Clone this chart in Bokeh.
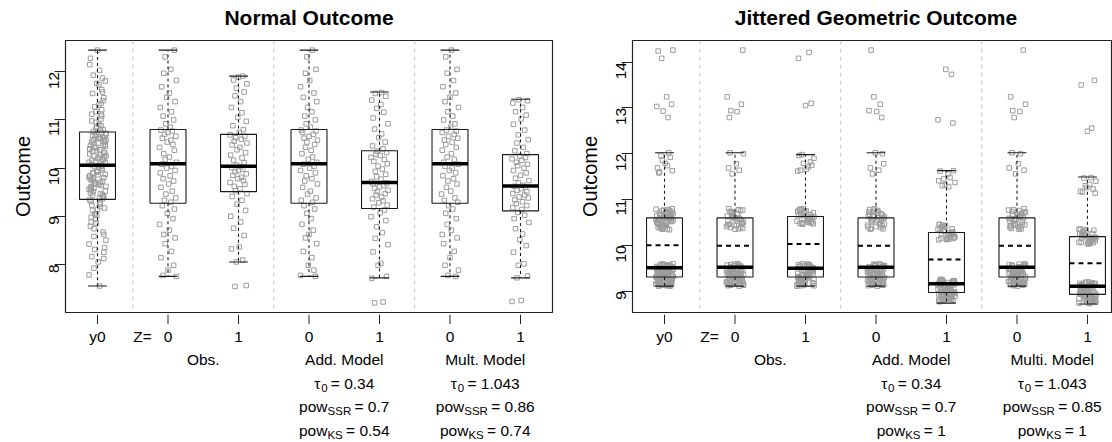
import math
from bokeh.plotting import figure
from bokeh.models import Range1d, FixedTicker, Span
from bokeh.layouts import row, column
from bokeh.core.properties import value
from bokeh.embed import file_html
from bokeh.resources import INLINE

FONT = "Liberation Sans"

# ---------------- data ----------------
positions = [1, 2, 3, 4, 5, 6, 7]
tick_labels = ["y0", "0", "1", "0", "1", "0", "1"]
z_label = "Z="
z_pos = 1.64
left_title = "Normal Outcome"
right_title = "Jittered Geometric Outcome"
title_center = 4.0
left_groups = ["Obs.", "Add. Model", "Mult. Model"]
right_groups = ["Obs.", "Add. Model", "Multi. Model"]
group_centers = [2.5, 4.5, 6.5]
tau_vals_left = ["0.34", "1.043"]
ssr_vals_left = ["0.7", "0.86"]
ks_vals_left = ["0.54", "0.74"]
tau_vals_right = ["0.34", "1.043"]
ssr_vals_right = ["0.7", "0.85"]
ks_vals_right = ["1", "1"]

# box statistics
left_q1 = [9.35, 9.27, 9.51, 9.27, 9.16, 9.27, 9.11]
left_med = [10.06, 10.09, 10.04, 10.09, 9.70, 10.09, 9.63]
left_q3 = [10.75, 10.80, 10.70, 10.80, 10.36, 10.80, 10.28]
left_lo = [7.55, 7.75, 8.05, 7.75, 7.72, 7.75, 7.72]
left_hi = [12.45, 12.45, 11.91, 12.45, 11.58, 12.45, 11.43]

right_q1 = [9.31, 9.31, 9.31, 9.31, 8.97, 9.31, 8.93]
right_med = [9.51, 9.52, 9.50, 9.52, 9.16, 9.52, 9.11]
right_mean = [10.00, 9.99, 10.03, 9.99, 9.69, 9.99, 9.61]
right_q3 = [10.60, 10.60, 10.63, 10.60, 10.28, 10.60, 10.19]
right_lo = [9.11, 9.11, 9.11, 9.11, 8.74, 9.11, 8.72]
right_hi = [12.02, 12.02, 11.98, 12.02, 11.63, 12.02, 11.49]

# jittered points (estimated)
left_y0 = [7.55, 8.16, 9.87, 10.42, 11.21, 9.34, 10.63, 8.74, 10.05, 11.87, 9.61, 10.28, 8.93, 10.71, 9.12,
           12.45, 10.17, 9.48, 11.02, 8.31, 10.55, 9.78, 10.91, 7.78, 9.96, 10.36, 11.46, 9.23, 10.79, 8.58,
           10.11, 9.69, 11.63, 10.47, 8.05, 9.41, 10.68, 12.03, 9.84, 10.22, 8.86, 11.34, 9.55, 10.59, 9.05,
           10.01, 11.93, 10.33, 8.42, 9.73, 10.86, 9.28, 11.12, 10.49, 7.92, 9.92, 10.74, 12.28, 9.38, 10.14,
           8.67, 11.55, 9.64, 10.40, 9.17, 10.82, 11.73, 8.98, 10.26, 9.51, 10.61, 11.27, 8.25, 9.81, 10.52,
           9.45, 10.98, 11.81, 9.02, 10.08, 8.79, 10.38, 9.58, 11.40, 10.69, 8.50, 9.90, 10.20, 11.08, 9.31,
           10.57, 12.15, 9.66, 10.03, 8.12, 10.76, 9.20, 11.17, 10.45, 9.75,
           9.36, 10.12, 10.65, 9.72, 10.31, 9.05, 10.88, 9.59, 10.47, 9.93, 10.23, 9.44, 10.72, 8.88, 10.04,
           9.67, 11.31, 10.39, 9.80, 10.58, 9.25, 10.16, 9.52, 10.95, 9.99, 10.29, 8.62, 10.51, 9.86, 11.58,
           10.07, 9.47, 10.67, 9.62, 10.35, 9.14, 10.80, 9.77, 11.12, 10.43, 8.35, 9.89, 10.62, 9.56, 10.19,
           11.76, 9.40, 10.54, 9.70, 10.25]
left_ctrl = [7.75, 7.77, 7.88, 7.98, 8.14, 8.27, 8.43, 8.55, 8.62, 8.71, 8.83, 8.95, 9.06, 9.15, 9.22,
             9.29, 9.33, 9.38, 9.46, 9.52, 9.60, 9.67, 9.73, 9.78, 9.84, 9.90, 9.95, 10.00, 10.04, 10.08,
             10.12, 10.18, 10.23, 10.30, 10.37, 10.43, 10.49, 10.54, 10.58, 10.62, 10.66, 10.70, 10.74, 10.77, 10.79,
             10.85, 10.92, 11.00, 11.08, 11.17, 11.26, 11.38, 11.47, 11.56, 11.69, 11.82, 11.97, 12.05, 12.31, 12.45]
left_obs1 = [7.54, 7.56, 8.05, 8.09, 8.32, 8.36, 8.60, 8.75, 8.88, 9.00, 9.12, 9.25, 9.33, 9.41, 9.47,
             9.53, 9.57, 9.62, 9.66, 9.70, 9.74, 9.78, 9.81, 9.85, 9.88, 9.92, 9.95, 9.98, 10.01, 10.03,
             10.06, 10.11, 10.16, 10.21, 10.27, 10.32, 10.38, 10.43, 10.48, 10.52, 10.56, 10.60, 10.63, 10.66, 10.69,
             10.74, 10.80, 10.88, 10.97, 11.05, 11.15, 11.26, 11.38, 11.50, 11.58, 11.66, 11.75, 11.83, 11.89, 11.91]
left_add1 = [7.20, 7.22, 7.71, 7.75, 7.98, 8.02, 8.26, 8.41, 8.54, 8.66, 8.78, 8.91, 8.99, 9.07, 9.13,
             9.19, 9.23, 9.28, 9.32, 9.36, 9.40, 9.44, 9.47, 9.51, 9.54, 9.58, 9.61, 9.64, 9.67, 9.69,
             9.72, 9.77, 9.82, 9.87, 9.93, 9.98, 10.04, 10.09, 10.14, 10.18, 10.22, 10.26, 10.29, 10.32, 10.35,
             10.40, 10.46, 10.54, 10.63, 10.71, 10.81, 10.92, 11.04, 11.16, 11.24, 11.32, 11.41, 11.49, 11.55, 11.57]
left_mult1 = [7.23, 7.25, 7.72, 7.76, 7.98, 8.01, 8.25, 8.39, 8.51, 8.63, 8.74, 8.87, 8.95, 9.02, 9.08,
              9.14, 9.18, 9.22, 9.26, 9.30, 9.34, 9.38, 9.40, 9.44, 9.47, 9.51, 9.54, 9.57, 9.60, 9.62,
              9.64, 9.69, 9.74, 9.79, 9.85, 9.90, 9.95, 10.00, 10.05, 10.08, 10.12, 10.16, 10.19, 10.22, 10.25,
              10.30, 10.36, 10.43, 10.52, 10.59, 10.69, 10.79, 10.91, 11.02, 11.10, 11.17, 11.26, 11.35, 11.40, 11.42]

right_y0 = [9.12, 9.35, 9.48, 9.21, 9.57, 9.30, 9.14, 9.44, 9.52, 9.26, 9.39, 9.17, 9.59, 9.33, 9.46,
            9.23, 9.11, 9.41, 9.55, 9.28, 9.19, 9.50, 9.37, 9.15, 9.43, 9.58, 9.24, 9.32, 9.47, 9.13,
            9.53, 9.36, 9.20, 9.45, 9.29, 9.56, 9.16, 9.40, 9.51, 9.25, 9.34, 9.18, 9.49, 9.60, 9.27,
            9.42, 9.22, 9.54, 9.31, 9.12, 9.38, 9.57, 9.19, 9.46, 9.30, 9.52, 9.14, 9.44, 9.26, 9.36,
            9.50, 9.21, 9.55, 9.33, 9.17, 9.48,
            9.13, 9.29, 9.47, 9.58, 9.20, 9.38, 9.53, 9.16, 9.34, 9.45, 9.11, 9.27, 9.56, 9.41, 9.22,
            9.49, 9.35, 9.18, 9.59, 9.31, 9.43, 9.24, 9.51, 9.15, 9.37, 9.54, 9.28, 9.46, 9.19, 9.40,
            10.36, 10.61, 10.74, 10.45, 10.58, 10.79, 10.41, 10.67, 10.52, 10.35, 10.71, 10.49, 10.63, 10.77,
            10.44, 10.56, 10.69, 10.39, 10.60, 10.75, 10.48, 10.65, 10.53, 10.38, 10.72, 10.57, 10.80, 10.46,
            10.64, 10.51, 10.68, 10.42, 10.59, 10.76, 10.55, 10.62,
            10.37, 10.54, 10.70, 10.43, 10.66, 10.50, 10.78, 10.40, 10.61, 10.47, 10.73, 10.56, 10.34, 10.64, 10.58,
            11.58, 11.74, 11.96, 11.63, 11.85, 12.02, 11.69, 11.79, 11.92, 11.60,
            13.24, 13.03, 13.08, 12.93, 12.79, 14.24, 14.26, 14.08]
right_ctrl = [9.13, 9.42, 9.27, 9.55, 9.18, 9.36, 9.49, 9.22, 9.58, 9.31, 9.45, 9.15, 9.39, 9.52, 9.25,
              9.60, 9.34, 9.20, 9.47, 9.11, 9.41, 9.56, 9.29, 9.17, 9.50, 9.37, 9.23, 9.44, 9.57, 9.32,
              9.14, 9.48, 9.26, 9.53, 9.38, 9.19, 9.43, 9.59, 9.30, 9.16, 9.46, 9.35, 9.21, 9.54,
              9.12, 9.33, 9.51, 9.24, 9.45, 9.16, 9.57, 9.28, 9.40, 9.19, 9.49, 9.36, 9.13, 9.55, 9.30,
              9.42, 9.21, 9.47, 9.26, 9.38,
              10.37, 10.62, 10.78, 10.45, 10.56, 10.70, 10.40, 10.66, 10.51, 10.74, 10.35, 10.59, 10.80, 10.48,
              10.64, 10.43, 10.72, 10.54, 10.39, 10.68, 10.60, 10.77, 10.46, 10.57,
              10.41, 10.58, 10.73, 10.47, 10.65, 10.36, 10.53, 10.76, 10.44, 10.69,
              12.02, 12.00, 11.69, 11.64, 11.56, 11.78,
              13.24, 13.08, 12.94, 12.92, 12.79, 14.26]
right_obs1 = [9.12, 9.40, 9.28, 9.56, 9.19, 9.35, 9.50, 9.23, 9.59, 9.30, 9.46, 9.14, 9.38, 9.53, 9.26,
              9.60, 9.33, 9.21, 9.48, 9.11, 9.42, 9.55, 9.29, 9.16, 9.51, 9.36, 9.24, 9.45, 9.58, 9.31,
              9.15, 9.47, 9.27, 9.54, 9.39, 9.18, 9.44, 9.57, 9.32, 9.17, 9.49, 9.34, 9.22, 9.52,
              9.14, 9.37, 9.53, 9.22, 9.44, 9.17, 9.58, 9.29, 9.41, 9.20, 9.50, 9.33, 9.12, 9.56, 9.27,
              9.43, 9.25, 9.48, 9.31, 9.39,
              10.46, 10.63, 10.78, 10.50, 10.57, 10.71, 10.48, 10.67, 10.53, 10.75, 10.47, 10.60, 10.80, 10.52,
              10.65, 10.49, 10.73, 10.55, 10.69, 10.62, 10.77, 10.58,
              10.49, 10.61, 10.74, 10.51, 10.66, 10.56, 10.79, 10.47, 10.70, 10.59,
              11.62, 11.75, 11.98, 11.66, 11.82, 11.96, 11.71, 11.79, 11.90, 11.64,
              13.05, 13.10, 14.08, 14.21]
right_add1 = [8.78, 9.06, 8.94, 9.22, 8.85, 9.01, 9.16, 8.89, 9.25, 8.96, 9.12, 8.80, 9.04, 9.19, 8.92,
              9.26, 8.99, 8.87, 9.14, 8.77, 9.08, 9.21, 8.95, 8.82, 9.17, 9.02, 8.90, 9.11, 9.24, 8.97,
              8.81, 9.13, 8.93, 9.20, 9.05, 8.84, 9.10, 9.23, 8.98, 8.83, 9.15, 9.00, 8.88, 9.18,
              8.80, 9.03, 9.19, 8.88, 9.10, 8.83, 9.24, 8.95, 9.07, 8.86, 9.16, 8.99, 8.78, 9.22, 8.93,
              9.09, 8.91, 9.14, 8.97, 9.05,
              10.12, 10.29, 10.44, 10.16, 10.23, 10.37, 10.14, 10.33, 10.19, 10.41, 10.13, 10.26, 10.46, 10.18,
              10.31, 10.15, 10.39, 10.21, 10.35, 10.28, 10.43, 10.24,
              10.15, 10.27, 10.40, 10.17, 10.32, 10.22, 10.45, 10.13, 10.36, 10.25,
              11.28, 11.41, 11.63, 11.32, 11.48, 11.62, 11.37, 11.45, 11.56, 11.30,
              12.67, 12.74, 13.73, 13.84]
right_mult1 = [8.74, 9.01, 8.90, 9.17, 8.81, 8.96, 9.11, 8.85, 9.20, 8.92, 9.07, 8.76, 8.99, 9.14, 8.88,
               9.20, 8.95, 8.83, 9.09, 8.73, 9.03, 9.16, 8.91, 8.78, 9.12, 8.97, 8.86, 9.06, 9.18, 8.93,
               8.77, 9.08, 8.89, 9.15, 9.00, 8.80, 9.05, 9.17, 8.94, 8.79, 9.10, 8.98, 8.84, 9.13,
               8.76, 8.98, 9.14, 8.84, 9.05, 8.79, 9.19, 8.91, 9.02, 8.82, 9.11, 8.95, 8.74, 9.17, 8.89,
               9.04, 8.87, 9.09, 8.93, 9.00,
               10.03, 10.19, 10.33, 10.07, 10.14, 10.27, 10.05, 10.23, 10.10, 10.31, 10.04, 10.17, 10.36, 10.09,
               10.21, 10.06, 10.29, 10.12, 10.25, 10.18, 10.34, 10.15,
               10.06, 10.17, 10.30, 10.08, 10.22, 10.13, 10.35, 10.05, 10.26, 10.16,
               11.14, 11.26, 11.48, 11.18, 11.33, 11.47, 11.23, 11.30, 11.40, 11.16,
               12.49, 12.56, 13.50, 13.60]

# horizontal jitter of the points (data units, estimated)
jitter = [0.03, -0.08, 0.11, -0.02, 0.06, -0.11, 0.09, -0.05, 0.01, 0.07,
          -0.09, 0.04, -0.03, 0.12, -0.07, 0.00, 0.08, -0.10, 0.05, -0.04,
          0.10, -0.06, 0.02, -0.12, 0.07, -0.01, 0.09, -0.08, 0.04, -0.05,
          0.11, -0.03, 0.06, -0.10, 0.01, 0.08, -0.07, 0.03, -0.11, 0.10,
          -0.02, 0.05, -0.09, 0.12, -0.04, 0.02, -0.06, 0.09, -0.12, 0.07,
          -0.01, 0.04, -0.08, 0.11, -0.05, 0.00, 0.06, -0.10, 0.03, -0.03,
          0.08, -0.07, 0.05, -0.11, 0.10, -0.02, 0.02, -0.09, 0.12, -0.06,
          0.04, -0.04, 0.09, -0.12, 0.01, 0.07, -0.08, 0.11, -0.01, 0.05,
          -0.10, 0.03, -0.05, 0.08, -0.03, 0.12, -0.07, 0.00, 0.06, -0.09,
          0.10, -0.11, 0.02, -0.04, 0.09, -0.06, 0.04, -0.02, 0.11, -0.08,
          0.07, -0.12, 0.01, -0.05, 0.10, -0.03, 0.05, -0.10, 0.08, -0.01,
          0.03, -0.07, 0.12, -0.09, 0.06, -0.04, 0.02, -0.11, 0.09, -0.06]
jitter_start = [0, 13, 29, 47, 61, 83, 101]

# ---------------- helpers ----------------
CW = {'p': .556, 'o': .556, 'w': .722, 'S': .667, 'R': .722, 'K': .667, '=': .584,
      '.': .278, ' ': .278, 'τ': .45}


def tw(s, size):
    return sum(CW.get(c, .556) for c in s) * size


MAIN = 15.5
SUB = 11.5
TITLE_H = 39    # strip holding the panel title
MAIN_H = 274    # frame 40..312
TICK_H = 11     # strip with the x tick marks
BOT_H = 442 - TITLE_H - MAIN_H - TICK_H
BOT_AX = 26


def blank(width, height, x_range, mb_left, mb_right, y_top, y_bottom, mb_top=0, x_loc=None):
    f = figure(width=width, height=height, x_range=x_range, y_range=Range1d(y_bottom, y_top),
               output_backend="svg", toolbar_location=None, min_border_left=mb_left,
               min_border_right=mb_right, min_border_top=mb_top, min_border_bottom=0,
               x_axis_location=x_loc, y_axis_location=None, title=None)
    f.outline_line_color = None
    f.grid.grid_line_color = None
    f.background_fill_color = "white"
    f.border_fill_color = "white"
    return f


def make_title(x_range, width, mb_left, mb_right, text):
    t = blank(width, TITLE_H, x_range, mb_left, mb_right, 0, TITLE_H)
    t.text(x=[title_center], y=[17], text=[text], text_font=value(FONT), text_font_size="21px",
           text_font_style="bold", text_align="center", text_baseline="middle",
           text_color="black")
    return t


def make_panel(x_range, ystart, yend, yticks, width, mb_left, mb_right):
    p = figure(width=width, height=MAIN_H, x_range=x_range,
               y_range=Range1d(ystart, yend), output_backend="svg", toolbar_location=None,
               min_border_left=mb_left, min_border_right=mb_right, min_border_top=1,
               min_border_bottom=1, x_axis_location=None, title=None)
    p.grid.grid_line_color = None
    p.outline_line_color = "#222222"
    p.outline_line_width = 1.2
    p.background_fill_color = "white"
    p.border_fill_color = "white"
    ya = p.yaxis[0]
    ya.ticker = FixedTicker(ticks=yticks)
    ya.axis_line_color = None
    ya.major_tick_out = 11
    ya.major_tick_in = 0
    ya.major_tick_line_color = "#222222"
    ya.minor_tick_line_color = None
    ya.major_label_text_font = FONT
    ya.major_label_text_font_size = "15.5px"
    ya.major_label_text_color = "black"
    ya.major_label_orientation = math.pi / 2
    ya.major_label_standoff = 0
    ya.axis_label = "Outcome"
    ya.axis_label_text_font = FONT
    ya.axis_label_text_font_size = "20px"
    ya.axis_label_text_font_style = "normal"
    ya.axis_label_text_color = "black"
    ya.axis_label_standoff = 8
    for loc in (1.5, 3.5, 5.5):
        p.add_layout(Span(location=loc, dimension="height", line_color="#c4c4c4",
                          line_dash="4 4", line_width=1))
    return p


def make_strip(x_range, width, mb_left, mb_right):
    s = blank(width, TICK_H, x_range, mb_left, mb_right, 0, TICK_H)
    # x tick marks below the frame
    s.segment(x0=positions, x1=positions, y0=[0] * len(positions), y1=[TICK_H] * len(positions),
              line_color="#222222", line_width=1)
    return s


def make_bottom(x_range, width, mb_left, mb_right):
    b = blank(width, BOT_H, x_range, mb_left, mb_right, 0, BOT_H - BOT_AX, mb_top=BOT_AX,
              x_loc="above")
    xa = b.xaxis[0]
    xa.ticker = FixedTicker(ticks=[positions[0], z_pos] + positions[1:])
    ov = {k: v for k, v in zip(positions, tick_labels)}
    ov[z_pos] = z_label
    xa.major_label_overrides = ov
    xa.axis_line_color = None
    xa.major_tick_out = 0
    xa.major_tick_in = 0
    xa.minor_tick_line_color = None
    xa.major_label_standoff = 8
    xa.major_label_text_font = FONT
    xa.major_label_text_font_size = "15.5px"
    xa.major_label_text_color = "black"
    return b


def txt(b, x, y, s, size, align="center", x_off=0):
    b.text(x=[x], y=[y], text=[s], x_offset=x_off, text_font=value(FONT),
           text_font_size=f"{size}px", text_align=align, text_baseline="middle",
           text_color="black")


def composite(b, xc, y, base, sub, rest):
    gap = 3.3
    wb, ws, wr = tw(base, MAIN), tw(sub, SUB), tw(rest, MAIN)
    total = wb + ws + gap + wr
    x0 = -total / 2
    txt(b, xc, y, base, MAIN, align="left", x_off=x0)
    txt(b, xc, y + 4.5, sub, SUB, align="left", x_off=x0 + wb)
    txt(b, xc, y, rest, MAIN, align="left", x_off=x0 + wb + ws + gap)


def annotate(b, groups, taus, ssrs, kss):
    for xc, name in zip(group_centers, groups):
        txt(b, xc, 7.5, name, MAIN)
    for k, xc in enumerate(group_centers[1:]):
        composite(b, xc, 32, "τ", "0", "= " + taus[k])
        composite(b, xc, 55.5, "pow", "SSR", "= " + ssrs[k])
        composite(b, xc, 79.5, "pow", "KS", "= " + kss[k])


def points(p, groups):
    xs, ys = [], []
    for g, vals in enumerate(groups):
        for i, v in enumerate(vals):
            xs.append(positions[g] + jitter[(i + jitter_start[g]) % len(jitter)])
            ys.append(v)
    p.scatter(xs, ys, marker="square", size=4.5, fill_color=None, line_color="#9c9c9c",
              line_width=1)


def boxes(p, q1, med, q3, lo, hi, mean=None):
    hw = 0.255
    cw = 0.133
    p.vbar(x=positions, width=2 * hw, bottom=q1, top=q3, fill_color=None,
           line_color="#1a1a1a", line_width=1.1)
    p.segment(x0=positions, y0=q3, x1=positions, y1=hi, line_color="#1a1a1a",
              line_dash="3 3", line_width=1.1)
    p.segment(x0=positions, y0=q1, x1=positions, y1=lo, line_color="#1a1a1a",
              line_dash="3 3", line_width=1.1)
    p.segment(x0=[x - cw for x in positions], x1=[x + cw for x in positions], y0=hi, y1=hi,
              line_color="#1a1a1a", line_width=1.1)
    p.segment(x0=[x - cw for x in positions], x1=[x + cw for x in positions], y0=lo, y1=lo,
              line_color="#1a1a1a", line_width=1.1)
    p.segment(x0=[x - hw for x in positions], x1=[x + hw for x in positions], y0=med, y1=med,
              line_color="black", line_width=3.5, line_cap="butt")
    if mean is not None:
        p.segment(x0=[x - hw for x in positions], x1=[x + hw for x in positions], y0=mean,
                  y1=mean, line_color="black", line_width=2, line_dash="5 4")


# layout widths: left frame 65..552, right frame 632..1112
LW = 566
RW = 1112 - LW
L_MB = (65, LW - 552)
R_MB = (632 - LW, 0)

# ---------------- left panel ----------------
xl = Range1d(0.546, 7.454)
tl = make_title(xl, LW, *L_MB, left_title)
pl = make_panel(xl, 7.0, 12.65, [8, 9, 10, 11, 12], LW, *L_MB)
points(pl, [left_y0, left_ctrl, left_obs1, left_ctrl, left_add1, left_ctrl, left_mult1])
boxes(pl, left_q1, left_med, left_q3, left_lo, left_hi)
sl = make_strip(xl, LW, *L_MB)
bl = make_bottom(xl, LW, *L_MB)
annotate(bl, left_groups, tau_vals_left, ssr_vals_left, ks_vals_left)

# ---------------- right panel ----------------
xr = Range1d(0.546, 7.355)
tr = make_title(xr, RW, *R_MB, right_title)
pr = make_panel(xr, 8.535, 14.47, [9, 10, 11, 12, 13, 14], RW, *R_MB)
points(pr, [right_y0, right_ctrl, right_obs1, right_ctrl, right_add1, right_ctrl, right_mult1])
boxes(pr, right_q1, right_med, right_q3, right_lo, right_hi, right_mean)
sr = make_strip(xr, RW, *R_MB)
br = make_bottom(xr, RW, *R_MB)
annotate(br, right_groups, tau_vals_right, ssr_vals_right, ks_vals_right)

layout = column(row(tl, tr), row(pl, pr), row(sl, sr), row(bl, br))
open("out.html", "w").write(file_html(layout, INLINE))
